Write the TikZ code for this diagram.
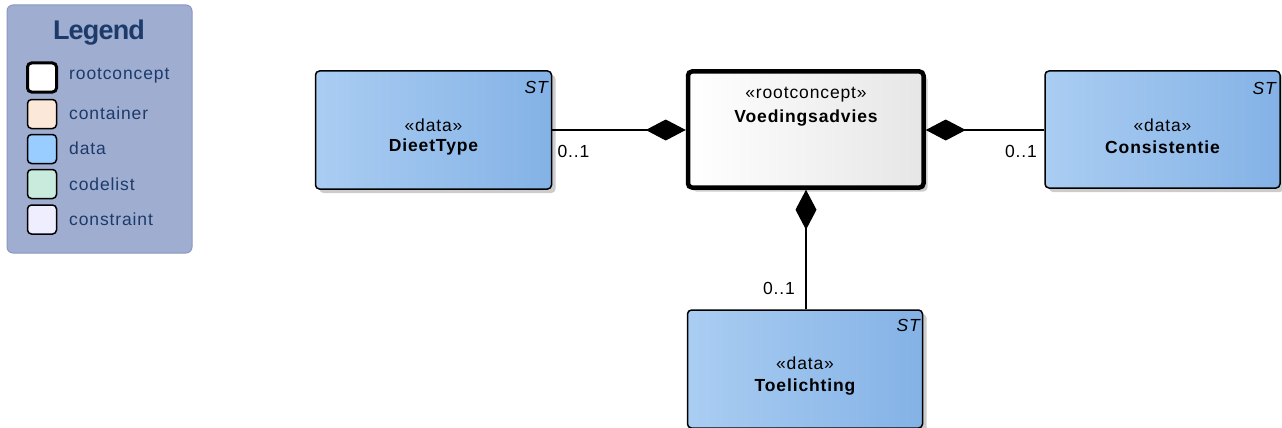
\documentclass[tikz,border=0pt]{standalone}
\usepackage{fontspec}
\setmainfont{Liberation Sans}[LetterSpace=5]
\newfontfamily\titlefont{Liberation Sans}[LetterSpace=-3]
\usetikzlibrary{arrows.meta,shadows}
\definecolor{legfill}{HTML}{9FADD0}
\definecolor{legdraw}{HTML}{8A99C2}
\definecolor{legtext}{HTML}{1C3B6B}
\definecolor{dataL}{HTML}{AACDF2}
\definecolor{dataR}{HTML}{84B2E6}
\definecolor{rootR}{HTML}{E6E6E6}
\definecolor{swcont}{HTML}{FCE8D8}
\definecolor{swdata}{HTML}{99CCFF}
\definecolor{swcode}{HTML}{C8EBDD}
\definecolor{swcons}{HTML}{EEEEFF}
\tikzset{
  txt/.style={font=\fontsize{17.5}{20}\selectfont, inner sep=0pt, text=black},
  btxt/.style={txt, font=\fontsize{17.5}{20}\selectfont\bfseries},
  sttxt/.style={txt, font=\fontsize{17.5}{20}\selectfont\itshape, anchor=east},
  shd/.style={drop shadow={shadow xshift=4pt, shadow yshift=-4pt, fill=black!20, opacity=1}},
  databox/.style={draw=black, line width=1.5pt, rounded corners=4pt, left color=dataL, right color=dataR, shd, inner sep=0pt},
  rootbox/.style={draw=black, line width=4.5pt, rounded corners=4pt, left color=white, right color=rootR, shd, inner sep=0pt},
  swatch/.style={draw=black, line width=1.5pt, rounded corners=4pt, minimum width=29pt, minimum height=29pt, inner sep=0pt},
  legtxt/.style={font=\fontsize{17.5}{20}\selectfont, text=legtext, anchor=west, inner sep=0pt},
  comp/.style={line width=1.3pt, -{Diamond[length=40pt,width=21pt]}},
  mult/.style={txt}
}
\begin{document}
\begin{tikzpicture}[x=1pt,y=-1pt]
\useasboundingbox (0,0) rectangle (1282,428);
% Legend
\node[draw=legdraw, fill=legfill, line width=1pt, rounded corners=6pt, minimum width=185pt, minimum height=248pt, inner sep=0pt] (legend) at (99.5,129) {};
\node[font=\titlefont\fontsize{27}{30}\selectfont\bfseries, text=legtext, inner sep=0pt] (legtitle) at (99,33) {Legend};
\node[swatch, fill=white, line width=3pt] (sw1) at (42,77.5) {};
\node[swatch, fill=swcont] (sw2) at (42,114) {};
\node[swatch, fill=swdata] (sw3) at (42,149) {};
\node[swatch, fill=swcode] (sw4) at (42,184) {};
\node[swatch, fill=swcons] (sw5) at (42,219.5) {};
\node[legtxt] (lt1) at (69,76) {rootconcept};
\node[legtxt] (lt2) at (69,113) {container};
\node[legtxt] (lt3) at (69,148) {data};
\node[legtxt] (lt4) at (69,184) {codelist};
\node[legtxt] (lt5) at (69,219) {constraint};
% Boxes
\node[databox, minimum width=236pt, minimum height=118pt] (dt) at (433.5,130) {};
\node[rootbox, minimum width=235.5pt, minimum height=116pt] (va) at (805.75,129.5) {};
\node[databox, minimum width=235pt, minimum height=117pt] (co) at (1162.5,129.5) {};
\node[databox, minimum width=235pt, minimum height=118pt] (tl) at (805,369) {};
% Texts
\node[txt] (dts) at (433.5,125) {«data»};
\node[btxt] (dtn) at (433.5,147) {DieetType};
\node[sttxt] (dtst) at (548,87.5) {ST};
\node[txt] (vas) at (806,95) {«rootconcept»};
\node[btxt] (van) at (806,118) {Voedingsadvies};
\node[txt] (cos) at (1162.5,125) {«data»};
\node[btxt] (con) at (1162.5,147) {Consistentie};
\node[sttxt] (cost) at (1276,88) {ST};
\node[txt] (tls) at (805,363) {«data»};
\node[btxt] (tln) at (805,387) {Toelichting};
\node[sttxt] (tlst) at (920,325) {ST};
% Connectors
\draw[comp] (dt.east |- 0,130) -- (va.west |- 0,130);
\draw[comp] (co.west |- 0,130) -- (va.east |- 0,130);
\draw[comp] (tl.north -| 806,0) -- (va.south -| 806,0);
% Multiplicities
\node[mult] (m1) at (573.5,151) {0..1};
\node[mult] (m2) at (1021,151) {0..1};
\node[mult] (m3) at (779,288) {0..1};
\end{tikzpicture}
\end{document}
